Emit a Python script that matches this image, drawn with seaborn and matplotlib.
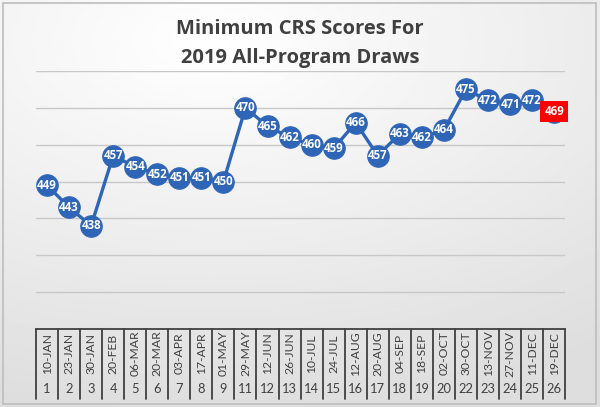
import numpy as np
import pandas as pd
import matplotlib
matplotlib.use("Agg")
import matplotlib.pyplot as plt
import matplotlib.transforms as mtransforms
import seaborn as sns

# draw dates, draw numbers and the minimum CRS score of each draw
dates = ["10-JAN", "23-JAN", "30-JAN", "20-FEB", "06-MAR", "20-MAR", "03-APR",
         "17-APR", "01-MAY", "29-MAY", "12-JUN", "26-JUN", "10-JUL", "24-JUL",
         "12-AUG", "20-AUG", "04-SEP", "18-SEP", "02-OCT", "30-OCT", "13-NOV",
         "27-NOV", "11-DEC", "19-DEC"]
draw_no = [1, 2, 3, 4, 5, 6, 7, 8, 9, 11, 12, 13, 14, 15, 16, 17, 18, 19, 20,
           22, 23, 24, 25, 26]
scores = [449, 443, 438, 457, 454, 452, 451, 451, 450, 470, 465, 462, 460, 459,
          466, 457, 463, 462, 464, 475, 472, 471, 472, 469]

df = pd.DataFrame({"pos": np.arange(len(dates)), "date": dates,
                   "draw": draw_no, "score": scores})

sns.set_theme(style="white")
plt.rcParams["font.family"] = ["Lato", "DejaVu Sans"]

blue = "#2F65B7"
txt = "#404040"

fig = plt.figure(figsize=(6.0, 4.07), dpi=100)

# soft gradient background with a thin frame
bg = fig.add_axes([0, 0, 1, 1], zorder=-10)
yy, xx = np.mgrid[0:1:200j, 0:1:300j]
r = np.sqrt((xx - 0.35) ** 2 + ((yy - 0.1) * 1.2) ** 2)
grad = 1.0 - 0.13 * np.clip(r / 1.1, 0, 1)
bg.imshow(grad, cmap="gray", vmin=0, vmax=1, extent=[0, 1, 0, 1],
          origin="upper", aspect="auto")
bg.add_patch(plt.Rectangle((0.005, 0.007), 0.988, 0.986, fill=False,
                           edgecolor="#bdbdbd", lw=1.2))
bg.set_xlim(0, 1)
bg.set_ylim(0, 1)
bg.axis("off")

ax = fig.add_axes([0.06, 0.1916, 0.882, 0.634])
ax.patch.set_alpha(0)

sns.lineplot(data=df, x="pos", y="score", ax=ax, color=blue, lw=2.4,
             marker="o", markersize=15.5, markeredgecolor=blue, zorder=3)

for i, row in df.iterrows():
    last = i == len(df) - 1
    ax.text(row["pos"], row["score"], str(row["score"]), ha="center",
            va="center", color="white", fontsize=8.3, fontweight="bold",
            family=["Open Sans", "DejaVu Sans"], zorder=5,
            bbox=dict(boxstyle="square,pad=0.35", fc="#FF0000", ec="none")
            if last else None)

ax.set_xlim(-0.5, len(df) - 0.5)
ax.set_ylim(410, 480)
ax.set_yticks(np.arange(420, 481, 10))
ax.yaxis.grid(True, color="#c8c8c8", lw=1)
ax.set_yticklabels([])
ax.tick_params(left=False, bottom=False)
ax.set_xticks([])
ax.set_xlabel("")
ax.set_ylabel("")
for s in ["left", "right", "top"]:
    ax.spines[s].set_visible(False)
ax.spines["bottom"].set_color("#404040")
ax.spines["bottom"].set_linewidth(1.3)

# category table under the axis
trans = mtransforms.blended_transform_factory(ax.transData, ax.transAxes)
for i, row in df.iterrows():
    ax.text(row["pos"], -0.095, row["date"], rotation=90, ha="center",
            va="center", fontsize=8.7, color=txt, transform=trans)
    ax.text(row["pos"], -0.234, str(row["draw"]), ha="center", va="center",
            fontsize=9.3, color=txt, transform=trans)
for b in np.arange(len(df) + 1) - 0.5:
    ax.plot([b, b], [0, -0.272], color="#404040", lw=1.3, transform=trans,
            clip_on=False)

for y, line in [(0.928, "Minimum CRS Scores For"),
                (0.857, "2019 All-Program Draws")]:
    fig.text(0.5, y, line, ha="center", va="center", fontsize=14.5,
             fontweight="bold", color=txt, family=["Open Sans", "DejaVu Sans"])

fig.savefig("out.png", dpi=100)
